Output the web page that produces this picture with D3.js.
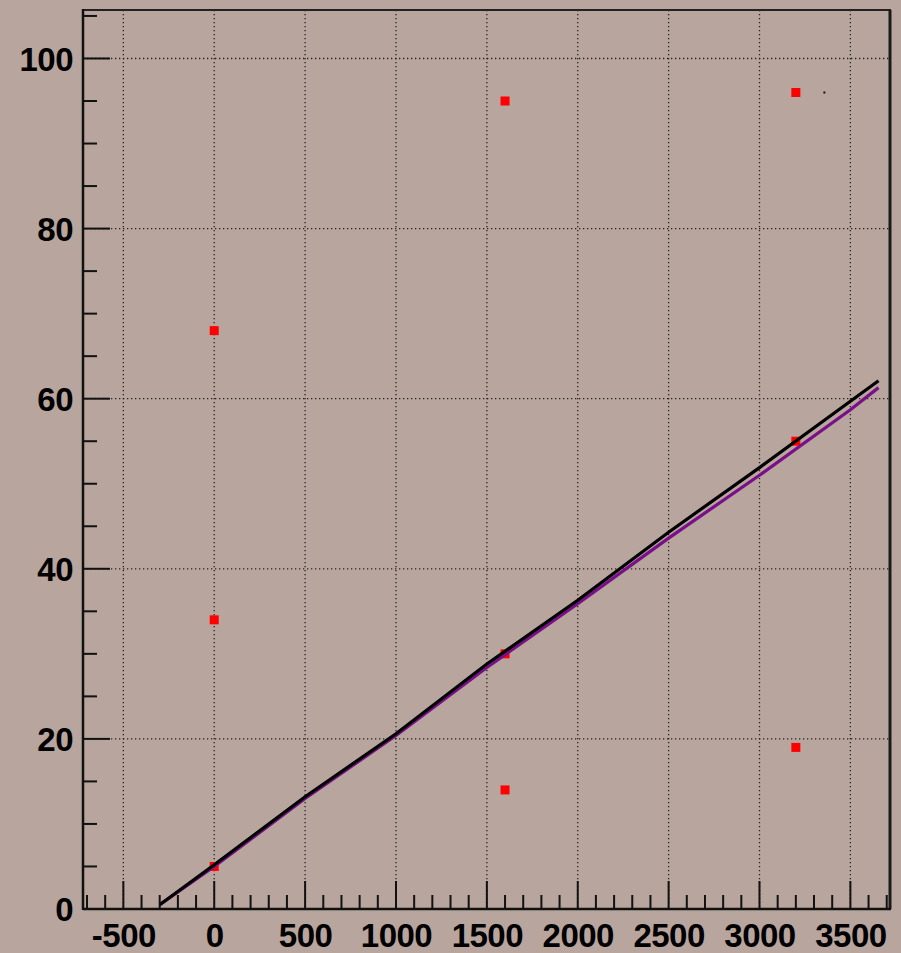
<!DOCTYPE html>
<html><head><meta charset="utf-8">
<script src="https://cdn.jsdelivr.net/npm/d3@7/dist/d3.min.js"></script>
<style>html,body{margin:0;padding:0;background:#b8a59d;}svg{display:block;}</style>
</head><body>
<svg id="c" width="901" height="953"></svg>
<script>
// ---- data ----
const xDomain = [-722, 3718];
const yDomain = [0, 105.7];
const xTicks = [-500, 0, 500, 1000, 1500, 2000, 2500, 3000, 3500];
const yTicks = [0, 20, 40, 60, 80, 100];
const pointsX = [0, 0, 0, 1600, 1600, 1600, 3200, 3200, 3200];
const pointsY = [5, 34, 68, 14, 30, 95, 19, 55, 96];
const strayX = [3357];
const strayY = [96];
const lineX      = [-300, 0, 500, 1000, 1500, 2000, 2500, 3000, 3500, 3655];
const blackLineY = [0.5, 5.2, 13.2, 20.6, 28.8, 36.3, 44.3, 51.9, 59.7, 62.1];
const purpleLineY= [0.5, 5.0, 13.0, 20.4, 28.4, 35.9, 43.6, 51.0, 58.7, 61.3];

// ---- layout ----
const L = 83, R = 890, T = 10, B = 909;
const svg = d3.select("#c");
const x = d3.scaleLinear().domain(xDomain).range([L, R]);
const y = d3.scaleLinear().domain(yDomain).range([B, T]);
const fmt = d => String(d);

// grid
const g = svg.append("g");
g.selectAll("line.gx").data(xTicks).enter().append("line")
  .attr("x1", d => x(d)).attr("x2", d => x(d)).attr("y1", T).attr("y2", B)
  .attr("stroke", "#222").attr("stroke-width", 1.3).attr("stroke-dasharray", "1.3,2.7");
g.selectAll("line.gy").data(yTicks.filter(d => d > 0)).enter().append("line")
  .attr("x1", L).attr("x2", R).attr("y1", d => y(d)).attr("y2", d => y(d))
  .attr("stroke", "#222").attr("stroke-width", 1.3).attr("stroke-dasharray", "1.3,2.7");

// markers
svg.append("g").selectAll("rect").data(pointsX.map((d, i) => [d, pointsY[i]])).enter().append("rect")
  .attr("x", d => x(d[0]) - 4.5).attr("y", d => y(d[1]) - 4.5)
  .attr("width", 9).attr("height", 9).attr("fill", "#ff0000");
svg.append("g").selectAll("rect").data(strayX.map((d, i) => [d, strayY[i]])).enter().append("rect")
  .attr("x", d => x(d[0]) - 1).attr("y", d => y(d[1]) - 1)
  .attr("width", 2).attr("height", 2).attr("fill", "#111");

// lines
const lineGen = d3.line().x(d => x(d[0])).y(d => y(d[1]));
svg.append("path").datum(lineX.map((d, i) => [d, purpleLineY[i]]))
  .attr("d", lineGen).attr("fill", "none").attr("stroke", "#7a0f8a").attr("stroke-width", 3.2);
svg.append("path").datum(lineX.map((d, i) => [d, blackLineY[i]]))
  .attr("d", lineGen).attr("fill", "none").attr("stroke", "#000").attr("stroke-width", 3.2);

// frame top & right
svg.append("line").attr("x1", L).attr("x2", R + 1).attr("y1", T).attr("y2", T)
  .attr("stroke", "#222").attr("stroke-width", 2);
svg.append("line").attr("x1", R).attr("x2", R).attr("y1", T).attr("y2", B)
  .attr("stroke", "#1a1a1a").attr("stroke-width", 3);

// x axis
const xAxis = svg.append("g").attr("transform", `translate(0,${B})`)
  .call(d3.axisBottom(x).tickValues(xTicks).tickSize(0).tickFormat(fmt));
xAxis.select(".domain").remove();
xAxis.selectAll("text").attr("dy", null).attr("y", 38)
  .attr("font-family", "Liberation Sans, Arial, sans-serif").attr("font-weight", "bold")
  .attr("font-size", 33).attr("fill", "#000").attr("letter-spacing", -0.5);
const xMinor = d3.range(-700, 3701, 100);
svg.append("g").selectAll("line").data(xMinor).enter().append("line")
  .attr("x1", d => x(d)).attr("x2", d => x(d))
  .attr("y1", B).attr("y2", d => B - (d % 500 === 0 ? 28 : 14))
  .attr("stroke", "#111").attr("stroke-width", 2);
svg.append("line").attr("x1", L).attr("x2", R + 1).attr("y1", B).attr("y2", B)
  .attr("stroke", "#111").attr("stroke-width", 2.5);

// y axis
const yAxis = svg.append("g").attr("transform", `translate(${L},0)`)
  .call(d3.axisLeft(y).tickValues(yTicks).tickSize(0).tickFormat(fmt));
yAxis.select(".domain").remove();
yAxis.selectAll("text").attr("x", -10).attr("dy", "0.36em")
  .attr("font-family", "Liberation Sans, Arial, sans-serif").attr("font-weight", "bold")
  .attr("font-size", 33).attr("fill", "#000").attr("letter-spacing", -0.5);
const yMinor = d3.range(0, 106, 5);
svg.append("g").selectAll("line").data(yMinor).enter().append("line")
  .attr("x1", L).attr("x2", d => L + (d % 20 === 0 ? 27 : 14))
  .attr("y1", d => y(d)).attr("y2", d => y(d))
  .attr("stroke", "#111").attr("stroke-width", 2);
svg.append("line").attr("x1", L).attr("x2", L).attr("y1", T - 1).attr("y2", B + 1)
  .attr("stroke", "#111").attr("stroke-width", 2.5);
</script>
</body></html>
